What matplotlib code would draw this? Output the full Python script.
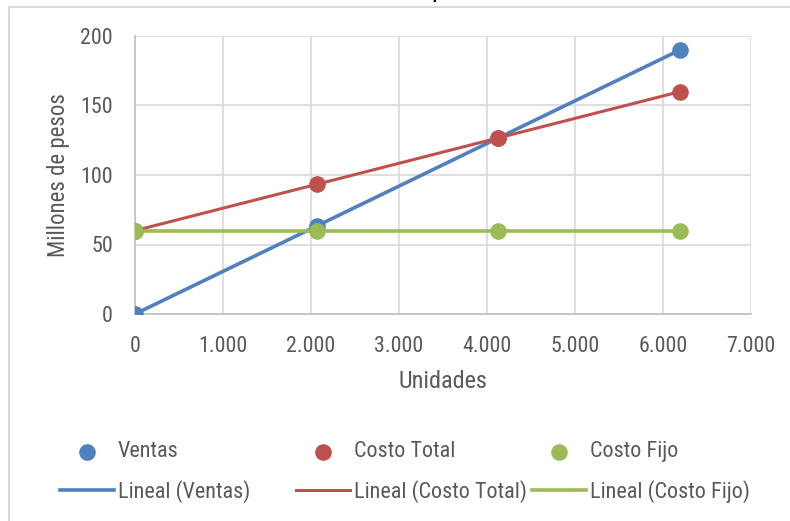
import numpy as np
import matplotlib
matplotlib.use("Agg")
import matplotlib.pyplot as plt
from matplotlib.patches import Rectangle
from matplotlib.ticker import FuncFormatter
from matplotlib import font_manager as fm

# punto de equilibrio: datos
unidades = [0, 2065, 4130, 6195]
ventas = [0, 63.3, 126.7, 190]
costo_total = [60, 93.3, 126.7, 160]
costo_fijo = [60, 60, 60, 60]

series = ["Ventas", "Costo Total", "Costo Fijo"]

azul = "#4F81BD"
rojo = "#C0504D"
verde = "#9BBB59"
gris_txt = "#595959"

# buscar una fuente estrecha parecida a la de Excel
narrow = [f for f in fm.fontManager.ttflist
          if ("Narrow" in f.name or "Condensed" in f.name or "Narrow" in f.fname
              or "Condensed" in f.fname) and "Bold" not in f.fname and "Oblique" not in f.fname
          and "Italic" not in f.fname]
fuente = None
for pref in ["LiberationSansNarrow", "RobotoCondensed", "DejaVuSansCondensed"]:
    for f in narrow:
        if pref in f.fname.replace("-", "").replace("_", ""):
            fuente = f
            break
    if fuente:
        break
if fuente:
    plt.rcParams['font.family'] = [fuente.name, 'Liberation Sans', 'DejaVu Sans']
    plt.rcParams['font.stretch'] = fuente.stretch
else:
    plt.rcParams['font.family'] = ['Liberation Sans', 'DejaVu Sans']

W, H = 790, 521
fig = plt.figure(figsize=(W / 100, H / 100), dpi=100)

# borde del area del grafico (sigue fuera de la imagen a la derecha y abajo)
fig.patches.append(Rectangle((9 / W, -0.1), 1.2, 1.1 - 7 / H, transform=fig.transFigure,
                             fill=False, edgecolor="#D9D9D9", linewidth=1.5))
# titulo cortado arriba
fig.text(413 / W, 1 + 4 / H, "Punto de equilibrio", ha="center", va="baseline",
         fontsize=20, style="italic", color="black")

ax = fig.add_axes([135 / W, 1 - 314 / H, (751 - 135) / W, (314 - 36) / H])

# lineas de tendencia
l1, = ax.plot(unidades, ventas, color=azul, lw=2.6, zorder=3)
l2, = ax.plot(unidades, costo_total, color=rojo, lw=2.2, zorder=3)
l3, = ax.plot(unidades, costo_fijo, color=verde, lw=2.6, zorder=3)

# puntos
s1 = ax.scatter(unidades, ventas, s=120, color=azul, zorder=4)
s2 = ax.scatter(unidades, costo_total, s=120, color=rojo, zorder=4)
s3 = ax.scatter(unidades, costo_fijo, s=120, color=verde, zorder=4)

ax.set_xlim(0, 7000)
ax.set_ylim(0, 200)
ax.set_xticks(range(0, 7001, 1000))
ax.set_yticks(range(0, 201, 50))
ax.xaxis.set_major_formatter(FuncFormatter(lambda v, p: f"{int(v):,}".replace(",", ".")))
ax.grid(True, color="#D9D9D9", lw=1.2)
ax.set_axisbelow(True)
for s in ["top", "right"]:
    ax.spines[s].set_visible(False)
for s in ["left", "bottom"]:
    ax.spines[s].set_color("#BFBFBF")
    ax.spines[s].set_linewidth(1.2)
ax.tick_params(length=0, labelsize=15.8, labelcolor=gris_txt, pad=16)

ax.set_xlabel("Unidades", fontsize=17.5, color=gris_txt, labelpad=9)
ax.set_ylabel("Millones de pesos", fontsize=16.5, color=gris_txt, labelpad=7)

# leyenda estilo Excel: tres columnas de igual ancho
fs = 15.9
px = fs * 100 / 72
pares = [(s1, l1), (s2, l2), (s3, l3)]
x_cols = [60, 296, 532]
for (sc, ln), nombre, x0 in zip(pares, series, x_cols):
    fig.legend([sc, ln], [nombre, f"Lineal ({nombre})"], loc="center left",
               bbox_to_anchor=(x0 / W, 1 - 472 / H), frameon=False, fontsize=fs,
               labelcolor=gris_txt, handlelength=54 / px, handletextpad=4 / px,
               borderpad=0, borderaxespad=0, labelspacing=0.78, scatterpoints=1)

fig.savefig("out.png", dpi=100)
